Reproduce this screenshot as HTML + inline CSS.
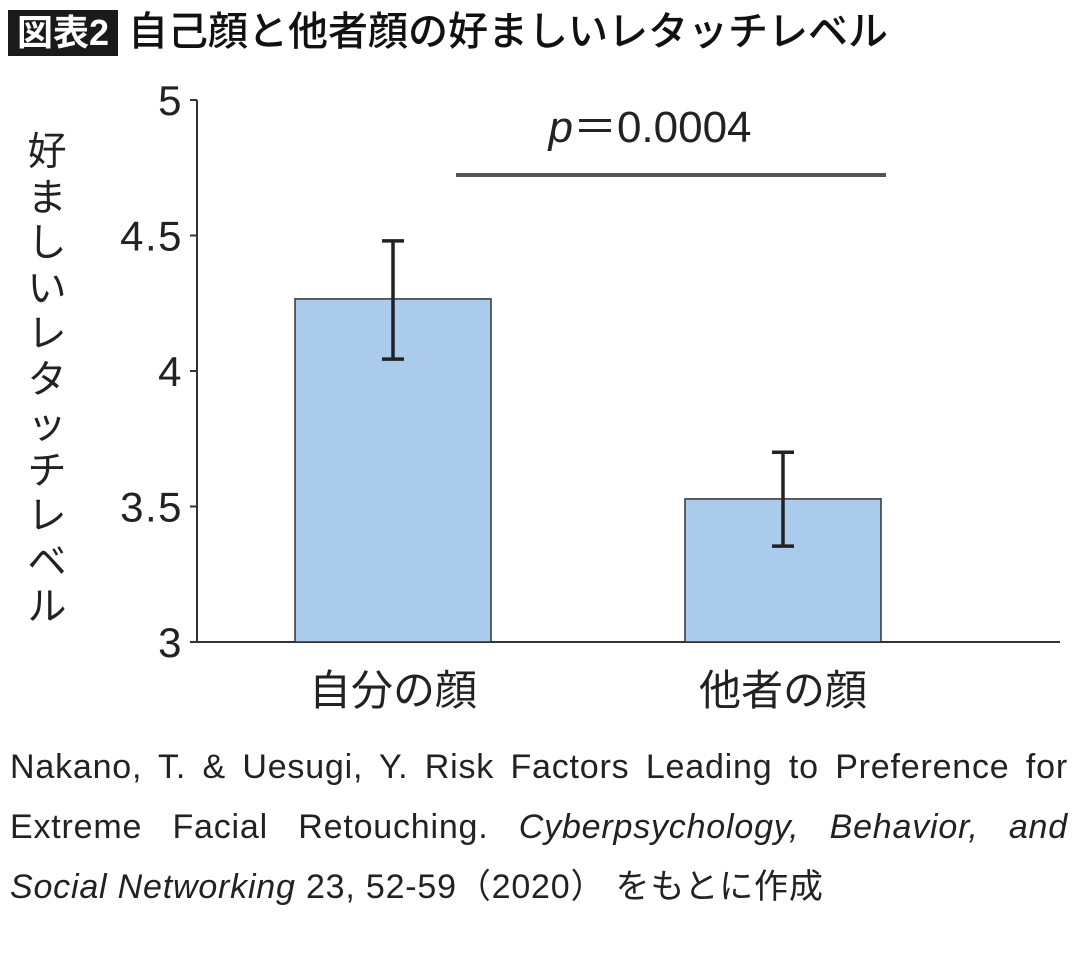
<!DOCTYPE html>
<html><head><meta charset="utf-8">
<style>
body{margin:0;background:#fff;width:1080px;height:962px;overflow:hidden;font-family:"Liberation Sans","Noto Sans CJK JP",sans-serif;}
.cite{position:absolute;left:10px;width:1058px;font-size:34px;letter-spacing:0.8px;color:#222;text-align:justify;text-align-last:justify;line-height:60px;white-space:nowrap;}
</style></head><body>
<div style="position:absolute;left:8px;top:10px;width:110px;height:46px;background:#1a1a1a;color:#fff;font-size:36px;font-weight:bold;line-height:46px;text-align:center;">図表2</div>
<div style="position:absolute;left:128px;top:6px;font-size:40px;color:#111;line-height:52px;font-weight:500;">自己顔と他者顔の好ましいレタッチレベル</div>
<div style="position:absolute;left:24px;top:130px;width:46px;font-size:39px;line-height:45.5px;color:#222;text-align:center;">好<br>ま<br>し<br>い<br>レ<br>タ<br>ッ<br>チ<br>レ<br>ベ<br>ル</div>
<svg id="chart" width="1080" height="962" style="position:absolute;left:0;top:0;"></svg>
<div class="cite" style="top:737px;">Nakano, T. &amp; Uesugi, Y. Risk Factors Leading to Preference for</div>
<div class="cite" style="top:797px;">Extreme Facial Retouching. <i>Cyberpsychology, Behavior, and</i></div>
<div class="cite" style="top:857px;text-align:left;text-align-last:left;"><i>Social Networking</i> 23, 52-59（2020） をもとに作成</div>
<script>
const categories=["自分の顔","他者の顔"];
const values=[4.266,3.528];
const errLow=[4.044,3.354];
const errHigh=[4.48,3.70];
const ticks=[3,3.5,4,4.5,5];
const tickLabels=["3","3.5","4","4.5","5"];
const pLabel="p＝0.0004";
const svg=document.getElementById('chart');
const NS="http://www.w3.org/2000/svg";
const y0=642,y1=100,vmin=3,vmax=5;
const y=v=>y0-(v-vmin)/(vmax-vmin)*(y0-y1);
const barW=196, centers=[393,783];
function mk(t,a){const e=document.createElementNS(NS,t);for(const k in a)e.setAttribute(k,a[k]);svg.appendChild(e);return e;}
let ax=mk('line',{x1:197,y1:y1,x2:197,y2:y0,stroke:'#333','stroke-width':2});


let bx=mk('line',{x1:196,y1:y0,x2:1060,y2:y0,stroke:'#333','stroke-width':2});


ticks.forEach((t,i)=>{
  let tl=mk('line',{x1:190,x2:197,y1:y(t),y2:y(t),stroke:'#333','stroke-width':2});
  
  
  let tx=mk('text',{x:183,y:y(t)+15,'text-anchor':'end','font-size':42,'letter-spacing':1.5,fill:'#222','font-family':'Liberation Sans, sans-serif'});
  tx.textContent=tickLabels[i];
  
  
});
categories.forEach((c,i)=>{
  const cx=centers[i];
  let r=mk('rect',{x:cx-barW/2,y:y(values[i]),width:barW,height:y0-y(values[i]),fill:'#aacbec',stroke:'#333','stroke-width':1.5});
  
  
  let g=document.createElementNS(NS,'g');svg.appendChild(g);
  
  
  [[cx,y(errHigh[i]),cx,y(errLow[i])],[cx-11,y(errHigh[i]),cx+11,y(errHigh[i])],[cx-11,y(errLow[i]),cx+11,y(errLow[i])]].forEach(p=>{
    const l=document.createElementNS(NS,'line');
    l.setAttribute('x1',p[0]);l.setAttribute('y1',p[1]);l.setAttribute('x2',p[2]);l.setAttribute('y2',p[3]);
    l.setAttribute('stroke','#222');l.setAttribute('stroke-width',3.5);g.appendChild(l);
  });
  let t=mk('text',{x:cx,y:705,'text-anchor':'middle','font-size':42,fill:'#222','font-family':'Liberation Sans, Noto Sans CJK JP, sans-serif'});
  t.textContent=c;
  
  
});
let sl=mk('line',{x1:456,x2:886,y1:175,y2:175,stroke:'#555','stroke-width':4});


let pt=mk('text',{x:650,y:142,'text-anchor':'middle','font-size':44,fill:'#222','font-family':'Liberation Sans, Noto Sans CJK JP, sans-serif'});
pt.innerHTML='<tspan font-style="italic">p</tspan>'+pLabel.slice(1);


</script>
</body></html>
